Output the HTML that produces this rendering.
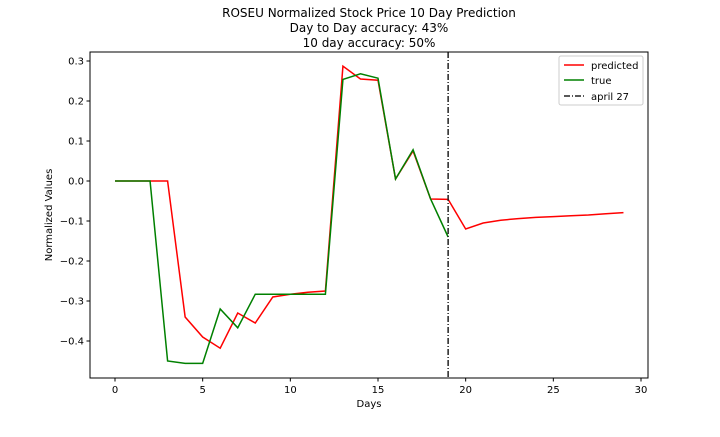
<!DOCTYPE html>
<html><head><meta charset="utf-8"><style>
body{margin:0;background:#fff;font-family:"Liberation Sans","DejaVu Sans",sans-serif;}
svg text{font-family:"DejaVu Sans","Liberation Sans",sans-serif;}
</style></head><body>
<svg id="chart" width="720" height="432" xmlns="http://www.w3.org/2000/svg">
<rect width="720" height="432" fill="#fff"/>
<text x="369" y="17" font-size="12" text-anchor="middle">ROSEU Normalized Stock Price 10 Day Prediction</text>
<text x="369" y="32" font-size="12" text-anchor="middle">Day to Day accuracy: 43%</text>
<text x="369" y="47" font-size="12" text-anchor="middle">10 day accuracy: 50%</text>
<g id="ticks"></g>
<g id="series"></g>
<rect x="90" y="52" width="558" height="326" fill="none" stroke="#000" stroke-width="1"/>
<text x="369" y="407" font-size="10" text-anchor="middle">Days</text>
<text x="52" y="215" font-size="10" text-anchor="middle" transform="rotate(-90 52 215)">Normalized Values</text>
<g>
<rect x="559" y="56" width="84" height="49" fill="#fff" stroke="#ccc" rx="2"/>
<line x1="564" y1="65" x2="584" y2="65" stroke="red" stroke-width="1.5"/>
<text x="591" y="69" font-size="10">predicted</text>
<line x1="564" y1="80" x2="584" y2="80" stroke="green" stroke-width="1.5"/>
<text x="591" y="84" font-size="10">true</text>
<line x1="564" y1="96" x2="584" y2="96" stroke="#222" stroke-width="1.5" stroke-dasharray="6,2,1,2"/>
<text x="591" y="100" font-size="10">april 27</text>
</g>
</svg>
<script>
const predicted=[0,0,0,0,-0.34,-0.39,-0.418,-0.33,-0.355,-0.29,-0.283,-0.278,-0.275,0.287,0.255,0.252,0.005,0.075,-0.045,-0.046,-0.12,-0.105,-0.098,-0.094,-0.091,-0.089,-0.087,-0.085,-0.082,-0.079];
const trueVals=[0,0,0,-0.45,-0.456,-0.456,-0.32,-0.367,-0.283,-0.283,-0.283,-0.283,-0.283,0.254,0.268,0.257,0.005,0.078,-0.045,-0.14];
const xTicks=[0,5,10,15,20,25,30];
const yTicks=[0.3,0.2,0.1,0.0,-0.1,-0.2,-0.3,-0.4];
const yTickLabels=["0.3","0.2","0.1","0.0","\u22120.1","\u22120.2","\u22120.3","\u22120.4"];
const vlineDay=19;
const NS="http://www.w3.org/2000/svg";
const X=d=>115+d*(641-115)/30;
const Y=v=>181-v*400;
const tg=document.getElementById('ticks'), sg=document.getElementById('series');
function mk(tag,attrs,parent){const e=document.createElementNS(NS,tag);for(const k in attrs)e.setAttribute(k,attrs[k]);parent.appendChild(e);return e;}
xTicks.forEach(t=>{
  const l=mk('line',{x1:X(t),x2:X(t),y1:378,y2:381.5,stroke:'#000'},tg);
  
  
  const tx=mk('text',{x:X(t),y:393,'font-size':10,'text-anchor':'middle'},tg);tx.textContent=t;
  
  
});
yTicks.forEach((t,i)=>{
  const l=mk('line',{x1:86.5,x2:90,y1:Y(t),y2:Y(t),stroke:'#000'},tg);
  
  
  const tx=mk('text',{x:84,y:Y(t)+3.5,'font-size':10,'text-anchor':'end'},tg);tx.textContent=yTickLabels[i];
  
  
});
const pp=mk('polyline',{points:predicted.map((v,i)=>X(i)+','+Y(v)).join(' '),fill:'none',stroke:'red','stroke-width':1.5},sg);


const tp=mk('polyline',{points:trueVals.map((v,i)=>X(i)+','+Y(v)).join(' '),fill:'none',stroke:'green','stroke-width':1.5},sg);


const vl=mk('line',{x1:X(vlineDay),x2:X(vlineDay),y1:52,y2:378,stroke:'#222','stroke-width':1.5,'stroke-dasharray':'6,2,1,2'},sg);


</script>
</body></html>
